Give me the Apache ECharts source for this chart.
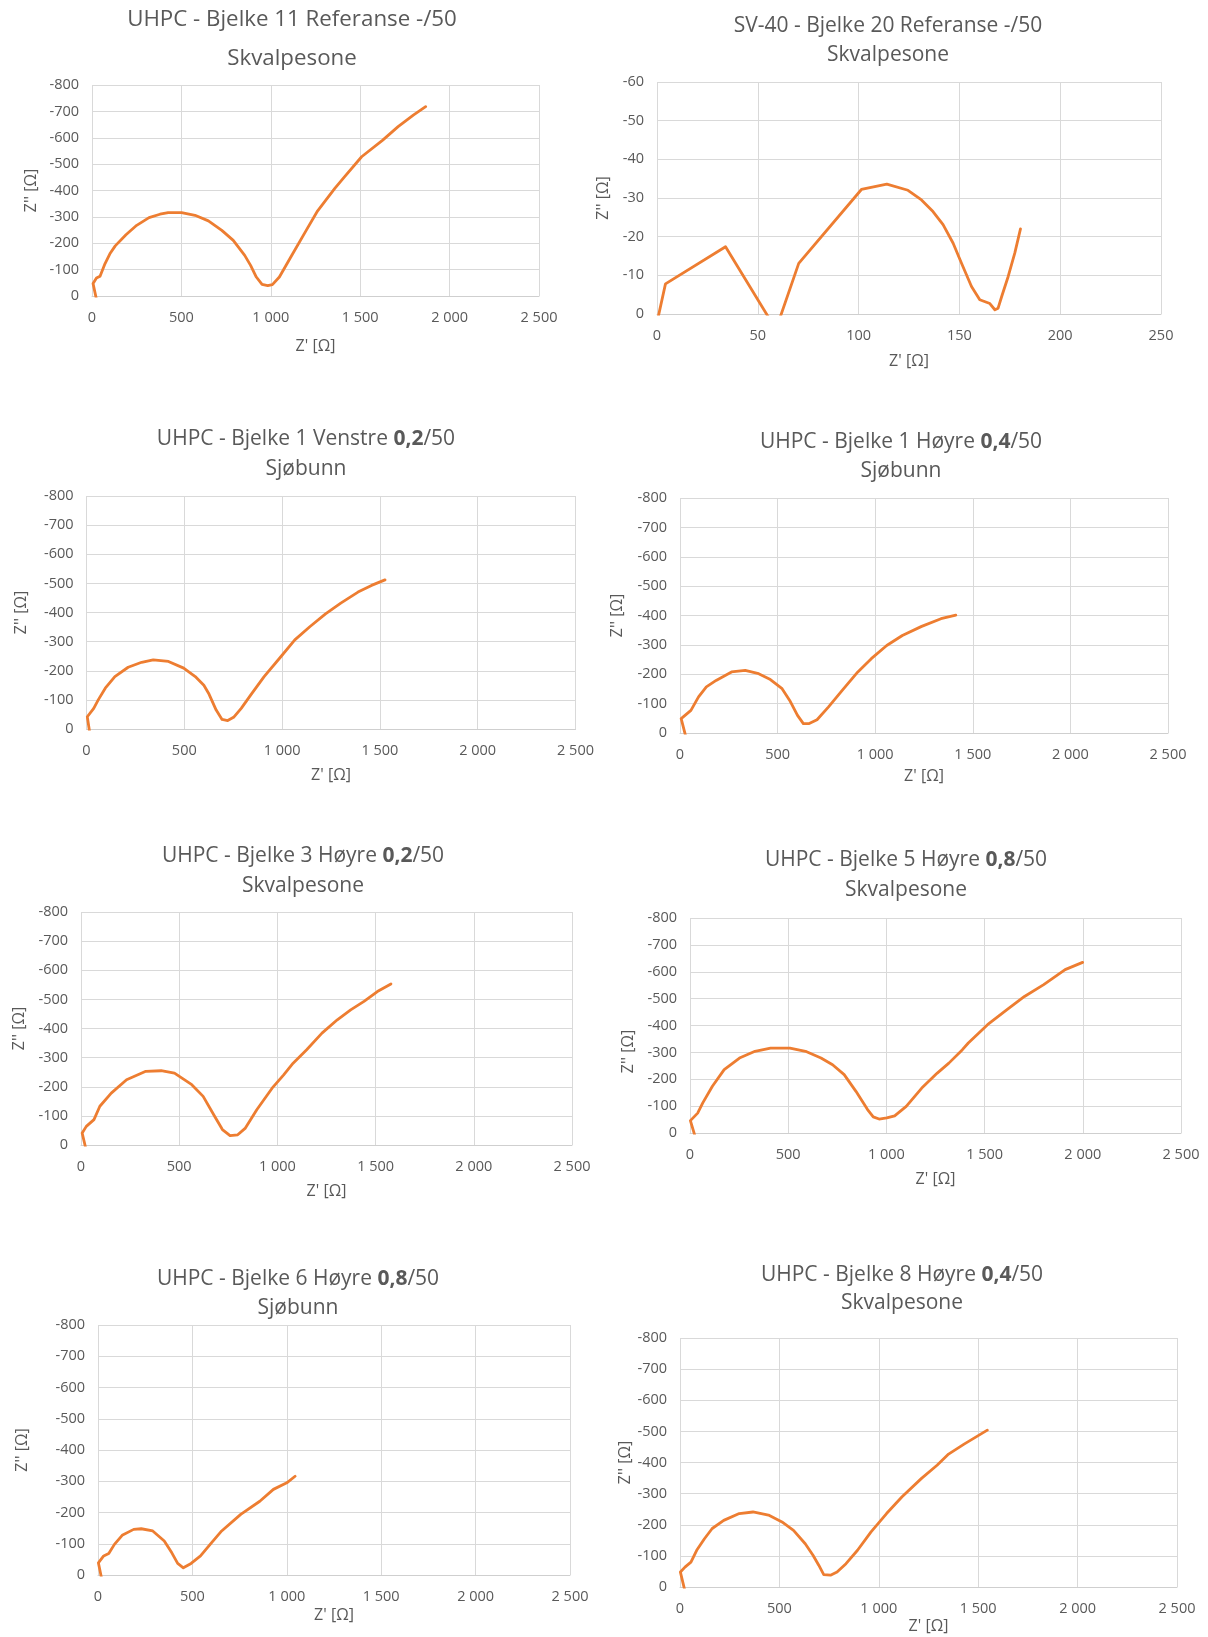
<!DOCTYPE html>
<html>
<head>
<meta charset="utf-8">
<script src="https://cdn.jsdelivr.net/npm/echarts@6/dist/echarts.min.js"></script>
<style>
html,body{margin:0;padding:0;background:#ffffff;}
#chart{width:1208px;height:1637px;}
</style>
</head>
<body>
<div id="chart"></div>
<script>
// ---------- Titles ----------
const titleLine1 = [
  'UHPC - Bjelke 11 Referanse -/50',
  'SV-40 - Bjelke 20 Referanse -/50',
  'UHPC - Bjelke 1 Venstre {b|0,2}/50',
  'UHPC - Bjelke 1 Høyre {b|0,4}/50',
  'UHPC - Bjelke 3 Høyre {b|0,2}/50',
  'UHPC - Bjelke 5 Høyre {b|0,8}/50',
  'UHPC - Bjelke 6 Høyre {b|0,8}/50',
  'UHPC - Bjelke 8 Høyre {b|0,4}/50'
];
const titleLine2 = ['Skvalpesone','Skvalpesone','Sjøbunn','Sjøbunn','Skvalpesone','Skvalpesone','Sjøbunn','Skvalpesone'];
const xAxisTitle = "Z' [Ω]";
const yAxisTitle = "Z'' [Ω]";

// ---------- Axis ranges / ticks ----------
const xMaxList = [2500, 250, 2500, 2500, 2500, 2500, 2500, 2500];
const xStepList = [500, 50, 500, 500, 500, 500, 500, 500];
const yMinList = [-800, -60, -800, -800, -800, -800, -800, -800];
const yStepList = [100, 10, 100, 100, 100, 100, 100, 100];

// ---------- Data: [Z', Z''] ----------
const bjelke11Ref = [[24,10],[6,-47],[25,-68],[45,-75],[73,-123],[100,-160],[130,-190],[190,-232],[250,-268],[319,-297],[380,-310],[426,-316],[501,-316],[576,-306],[651,-285],[726,-249],[790,-211],[854,-154],[887,-116],[919,-72],[951,-44],[983,-39],[1009,-43],[1048,-72],[1112,-148],[1198,-249],[1262,-323],[1358,-408],[1412,-452],[1508,-528],[1626,-591],[1712,-642],[1797,-686],[1866,-718]];
const bjelke20Ref = [[0.5,1],[4.2,-7.8],[34,-17.4],[59,4],[70.3,-13.1],[101.4,-32.2],[114,-33.6],[124.5,-32],[131.2,-29.5],[136.9,-26.5],[141.9,-23.1],[146.9,-18.3],[151,-13.2],[156,-7.1],[160.1,-3.7],[165.1,-2.7],[167.6,-1.1],[169.2,-1.5],[170.9,-4.4],[171.5,-4.3],[174.2,-9.7],[177.5,-15.8],[180.3,-22]];
const bjelke1Venstre = [[15,6],[4,-42],[37,-71],[60,-100],[96,-140],[145,-180],[213,-212],[282,-229],[341,-237],[419,-232],[497,-209],[556,-180],[600,-150],[624,-123],[663,-65],[693,-33],[722,-29],[752,-40],[791,-71],[840,-117],[908,-180],[987,-243],[1065,-306],[1143,-352],[1222,-395],[1300,-432],[1388,-470],[1457,-493],[1526,-512]];
const bjelke1Hoyre = [[28,8],[6,-49],[56,-77],[95,-123],[135,-157],[185,-179],[264,-208],[334,-213],[403,-202],[463,-182],[523,-151],[562,-111],[602,-60],[632,-32],[662,-32],[702,-45],[761,-89],[831,-145],[911,-208],[980,-253],[1059,-298],[1139,-332],[1238,-363],[1337,-389],[1413,-401]];
const bjelke3Hoyre = [[23,8],[6,-41],[27,-64],[66,-87],[96,-133],[154,-178],[232,-224],[330,-253],[408,-255],[476,-247],[564,-207],[622,-167],[681,-98],[720,-53],[759,-32],[798,-35],[837,-58],[895,-121],[973,-195],[1032,-241],[1080,-281],[1149,-327],[1227,-384],[1305,-430],[1373,-464],[1441,-493],[1509,-527],[1578,-553]];
const bjelke5Hoyre = [[24,8],[2,-46],[39,-74],[65,-112],[114,-174],[174,-236],[252,-279],[331,-304],[410,-316],[509,-316],[588,-304],[667,-279],[726,-254],[785,-217],[845,-155],[904,-87],[933,-60],[963,-52],[1002,-56],[1042,-64],[1101,-99],[1180,-167],[1259,-223],[1318,-260],[1387,-310],[1417,-335],[1515,-403],[1614,-459],[1703,-508],[1801,-552],[1910,-608],[1999,-635]];
const bjelke6Hoyre = [[18,8],[2,-39],[30,-61],[57,-69],[87,-98],[128,-127],[189,-146],[229,-148],[290,-141],[351,-109],[391,-71],[422,-37],[452,-23],[493,-37],[543,-61],[594,-98],[655,-141],[756,-194],[857,-236],[929,-274],[1000,-295],[1044,-316]];
const bjelke8Hoyre = [[23,8],[2,-48],[25,-64],[55,-80],[84,-118],[123,-155],[162,-188],[220,-214],[298,-236],[367,-241],[445,-231],[513,-209],[571,-182],[630,-139],[669,-102],[698,-70],[723,-40],[757,-38],[790,-48],[835,-75],[893,-118],[961,-177],[1039,-236],[1117,-290],[1215,-349],[1293,-391],[1351,-427],[1429,-459],[1546,-504]];
const seriesData = [bjelke11Ref, bjelke20Ref, bjelke1Venstre, bjelke1Hoyre, bjelke3Hoyre, bjelke5Hoyre, bjelke6Hoyre, bjelke8Hoyre];

// ---------- Layout (pixels) ----------
const layout = [
  {g:[92,85,447,211],  t:[292,19.5,39,22.3], xg:42, yg:53, yPad:0},
  {g:[657,82,504,232], t:[888,26,29,21],   xg:39, yg:46, yPad:0},
  {g:[86.5,496,489,233], t:[306,439.5,30,21], xg:38, yg:57, yPad:0},
  {g:[680,498,488,235], t:[901,442.5,29,21], xg:35, yg:55, yPad:0},
  {g:[81,912,491,233], t:[303,856.5,29.5,21], xg:38, yg:54, yPad:0},
  {g:[690,918,491,215], t:[906,860,30,21],  xg:38, yg:54, yPad:52},
  {g:[98,1325,472,250], t:[298,1279,29,21], xg:32, yg:68, yPad:0},
  {g:[680,1338,497,249], t:[902,1275,28.5,21], xg:31, yg:46, yPad:0}
];

const TEXT = '#595959';
const GRID = '#d9d9d9';
const FONT = "'Open Sans', 'Noto Sans', sans-serif";

function fmtX(v){
  const s = String(v);
  return v >= 1000 ? s.slice(0, s.length-3) + ' ' + s.slice(-3) : s;
}

const grids = [], xAxes = [], yAxes = [], series = [], titles = [];
layout.forEach((L, i) => {
  grids.push({left:L.g[0], top:L.g[1], width:L.g[2], height:L.g[3], containLabel:false});
  const fs = L.t[3], lh = L.t[2];
  titles.push({
    text: titleLine1[i] + '\n' + titleLine2[i],
    left: L.t[0], top: L.t[1] - lh/2, textAlign: 'center', padding: 0,
    textStyle: {color: TEXT, fontFamily: FONT, fontSize: fs, fontWeight: 'normal', lineHeight: lh,
      rich: {b: {color: TEXT, fontFamily: FONT, fontSize: fs, fontWeight: 'bold', lineHeight: lh}}}
  });
  xAxes.push({
    type:'value', gridIndex:i, min:0, max:xMaxList[i], interval:xStepList[i],
    position:'bottom',
    name: xAxisTitle, nameLocation:'middle', nameGap: L.xg,
    nameTextStyle:{color:TEXT, fontFamily:FONT, fontSize:16},
    axisLine:{show:true, onZero:false, lineStyle:{color:'#cfcfcf', width:1}},
    axisTick:{show:false},
    axisLabel:{color:TEXT, fontFamily:FONT, fontSize:14.5, margin:14, formatter: fmtX},
    splitLine:{show:true, lineStyle:{color:GRID, width:1}}
  });
  yAxes.push({
    type:'value', gridIndex:i, min:yMinList[i], max:0, interval:yStepList[i], inverse:true,
    name: yAxisTitle, nameLocation:'middle', nameGap: L.yg,
    nameTextStyle:{color:TEXT, fontFamily:FONT, fontSize:16, padding:[0, L.yPad, 0, 0]},
    axisLine:{show:false}, axisTick:{show:false},
    axisLabel:{color:TEXT, fontFamily:FONT, fontSize:14.5, margin:13},
    splitLine:{show:true, lineStyle:{color:GRID, width:1}}
  });
  series.push({
    type:'line', xAxisIndex:i, yAxisIndex:i, data: seriesData[i],
    showSymbol:false, symbol:'none', smooth:false, clip:true,
    lineStyle:{color:'#ED7D31', width:2.8, join:'round', cap:'round'},
    animation:false
  });
});

const chart = echarts.init(document.getElementById('chart'), null, {renderer:'canvas'});
chart.setOption({
  backgroundColor:'#ffffff',
  animation:false,
  textStyle:{fontFamily:FONT},
  title: titles,
  grid: grids,
  xAxis: xAxes,
  yAxis: yAxes,
  series: series
});
</script>
</body>
</html>
